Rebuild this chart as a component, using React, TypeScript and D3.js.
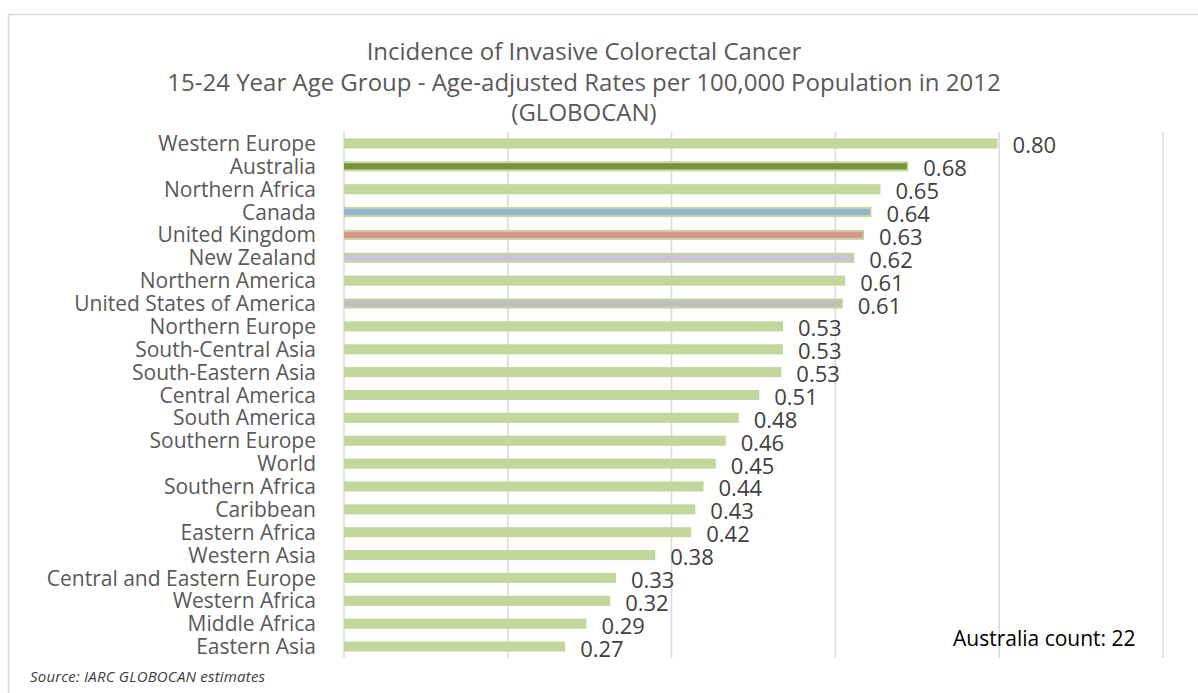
import { useEffect, useRef } from "react";
import * as d3 from "d3";

const categories = [
  "Western Europe",
  "Australia",
  "Northern Africa",
  "Canada",
  "United Kingdom",
  "New Zealand",
  "Northern America",
  "United States of America",
  "Northern Europe",
  "South-Central Asia",
  "South-Eastern Asia",
  "Central America",
  "South America",
  "Southern Europe",
  "World",
  "Southern Africa",
  "Caribbean",
  "Eastern Africa",
  "Western Asia",
  "Central and Eastern Europe",
  "Western Africa",
  "Middle Africa",
  "Eastern Asia",
];

const rates = [
  0.8, 0.68, 0.65, 0.64, 0.63, 0.62, 0.61, 0.61, 0.53, 0.53, 0.53, 0.51, 0.48,
  0.46, 0.45, 0.44, 0.43, 0.42, 0.38, 0.33, 0.32, 0.29, 0.27,
];

// exact-ish bar ends (labels are rounded)
const barValues = [
  0.798, 0.689, 0.655, 0.644, 0.635, 0.623, 0.612, 0.609, 0.536, 0.536, 0.534,
  0.507, 0.482, 0.466, 0.454, 0.439, 0.429, 0.424, 0.38, 0.332, 0.325, 0.296,
  0.27,
];

const highlighted = [
  "Australia",
  "Canada",
  "United Kingdom",
  "New Zealand",
  "United States of America",
];
const highlightColors = ["#77933C", "#95B3D7", "#D99694", "#CCC1DA", "#BFBFBF"];

const xTicks = [0, 0.2, 0.4, 0.6, 0.8, 1.0];

const titleLines = [
  "Incidence of Invasive Colorectal Cancer",
  "15-24 Year Age Group - Age-adjusted Rates per 100,000 Population in 2012",
  "(GLOBOCAN)",
];

const W = 1198;
const H = 693;
const FONT = "'Open Sans', sans-serif";

const App = () => {
  const svgRef = useRef<SVGSVGElement | null>(null);

  useEffect(() => {
    if (!svgRef.current) return;
    const svg = d3.select(svgRef.current);
    svg.selectAll("*").remove();

    const data = categories.map((c, i) => ({
      name: c,
      label: rates[i],
      value: barValues[i],
    }));

    const xScale = d3.scaleLinear().domain([0, 1]).range([344, 1163]);
    const yScale = d3
      .scaleBand()
      .domain(categories)
      .range([132, 658])
      .paddingInner(0.56)
      .paddingOuter(0.28);

    const colorOf = d3
      .scaleOrdinal<string, string>()
      .domain(highlighted)
      .range(highlightColors);

    // frame
    svg
      .append("path")
      .attr("d", `M8.5,${H} L8.5,14.5 L${W},14.5`)
      .attr("fill", "none")
      .attr("stroke", "#D9D9D9")
      .attr("stroke-width", 1.5);

    // title
    svg
      .append("g")
      .selectAll("text")
      .data(titleLines)
      .enter()
      .append("text")
      .attr("x", 584)
      .attr("y", (_, i) => 60 + i * 30.5)
      .attr("text-anchor", "middle")
      .style("font-family", FONT)
      .style("font-size", "24px")
      .style("fill", "#595959")
      .text((d) => d);

    // gridlines
    svg
      .append("g")
      .selectAll("line")
      .data(xTicks)
      .enter()
      .append("line")
      .attr("x1", (d) => xScale(d))
      .attr("x2", (d) => xScale(d))
      .attr("y1", 132)
      .attr("y2", 658)
      .attr("stroke", "#D9D9D9")
      .attr("stroke-width", 1.5);

    // base bars
    svg
      .append("g")
      .selectAll("rect")
      .data(data)
      .enter()
      .append("rect")
      .attr("x", xScale(0))
      .attr("y", (d) => yScale(d.name) || 0)
      .attr("width", (d) => xScale(d.value) - xScale(0))
      .attr("height", yScale.bandwidth())
      .attr("fill", "#C3D69B");

    // highlighted country bars on top
    svg
      .append("g")
      .selectAll("rect")
      .data(data.filter((d) => highlighted.includes(d.name)))
      .enter()
      .append("rect")
      .attr("x", xScale(0))
      .attr("y", (d) => (yScale(d.name) || 0) + 2)
      .attr("width", (d) => xScale(d.value) - xScale(0) - 1.5)
      .attr("height", yScale.bandwidth() - 4)
      .attr("fill", (d) => colorOf(d.name));

    // category labels
    svg
      .append("g")
      .selectAll("text")
      .data(data)
      .enter()
      .append("text")
      .attr("x", 316)
      .attr("y", (d) => (yScale(d.name) || 0) + yScale.bandwidth() / 2)
      .attr("dy", "0.36em")
      .attr("text-anchor", "end")
      .style("font-family", FONT)
      .style("font-size", "21px")
      .style("fill", "#595959")
      .text((d) => d.name);

    // value labels
    svg
      .append("g")
      .selectAll("text")
      .data(data)
      .enter()
      .append("text")
      .attr("x", (d) => xScale(d.value) + 15)
      .attr("y", (d) => (yScale(d.name) || 0) + yScale.bandwidth() / 2 + 10)
      .style("font-family", FONT)
      .style("font-size", "22px")
      .style("fill", "#404040")
      .text((d) => d3.format(".2f")(d.label));

    // annotation
    svg
      .append("text")
      .attr("x", 953)
      .attr("y", 646)
      .style("font-family", FONT)
      .style("font-size", "21px")
      .style("fill", "#000000")
      .text("Australia count: 22");

    svg
      .append("text")
      .attr("x", 30)
      .attr("y", 682)
      .style("font-family", FONT)
      .style("font-size", "15px")
      .style("font-style", "italic")
      .style("letter-spacing", "0.2px")
      .style("fill", "#404040")
      .text("Source: IARC GLOBOCAN estimates");
  }, []);

  return (
    <svg
      ref={svgRef}
      width={W}
      height={H}
      style={{ position: "absolute", left: 0, top: 0, background: "#fff" }}
    />
  );
};

export default App;
